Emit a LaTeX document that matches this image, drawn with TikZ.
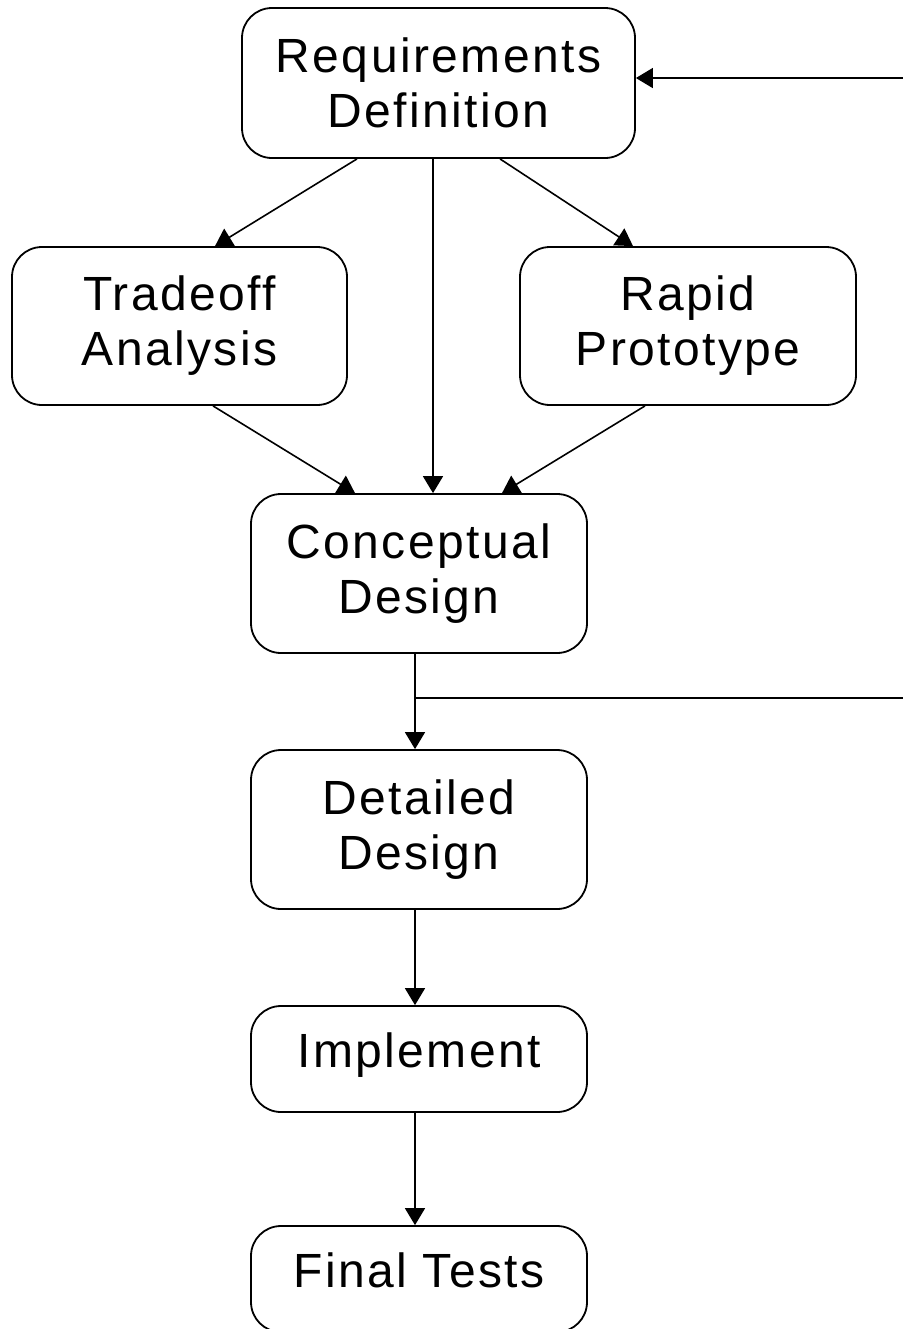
\documentclass[tikz,border=0pt]{standalone}
\usepackage{fontspec}
\setmainfont{Liberation Sans}[LetterSpace=5]
\usetikzlibrary{arrows.meta,calc}
\begin{document}
\begin{tikzpicture}[x=0.5pt,y=-0.5pt,
  stage/.style={draw=black,line width=0.9pt,rounded corners=15pt,inner sep=0pt,
    align=center,font=\fontsize{24pt}{27.5pt}\selectfont,minimum width=168pt},
  oneline/.style={stage,minimum height=53pt,text depth=9pt},
  link/.style={line width=0.8pt},
  arr/.style={link,-{Triangle[length=8.5pt,width=10pt]}}]
\useasboundingbox (0,0) rectangle (903,1329);
% process stages
\node[stage,minimum width=196.5pt,minimum height=75pt] (req) at (438.5,83) {Requirements\\Definition};
\node[stage,minimum width=167.5pt,minimum height=79pt] (trade) at (179.5,326) {Tradeoff\\Analysis};
\node[stage,minimum height=79pt] (rapid) at (688,326) {Rapid\\Prototype};
\node[stage,minimum height=79.5pt] (conc) at (419,573.5) {Conceptual\\Design};
\node[stage,minimum height=79.5pt] (det) at (419,829.5) {Detailed\\Design};
\node[oneline] (impl) at (419,1059) {Implement};
\node[oneline] (final) at (419,1279) {Final Tests};
% feedback line ends at the right margin
\coordinate (fbtop) at (903,78);
\coordinate (fbmid) at (903,698);
\coordinate (split) at (415,698);
% connectors
\draw[arr] ([xshift=-40.75pt]req.south) -- ([xshift=17.75pt]trade.north);
\draw[arr] ([xshift=-2.75pt]req.south) -- ([xshift=7pt]conc.north);
\draw[arr] ([xshift=30.75pt]req.south) -- ([xshift=-27.5pt]rapid.north);
\draw[arr] ([xshift=16.75pt]trade.south) -- ([xshift=-32pt]conc.north);
\draw[arr] ([xshift=-21.5pt]rapid.south) -- ([xshift=41.5pt]conc.north);
\draw[arr] ([xshift=-2pt]conc.south) -- ([xshift=-2pt]det.north);
\draw[link] (split) -- (fbmid);
\draw[arr] (fbtop) -- (fbtop -| req.east);
\draw[arr] ([xshift=-2pt]det.south) -- ([xshift=-2pt]impl.north);
\draw[arr] ([xshift=-2pt]impl.south) -- ([xshift=-2pt]final.north);
\end{tikzpicture}
\end{document}
